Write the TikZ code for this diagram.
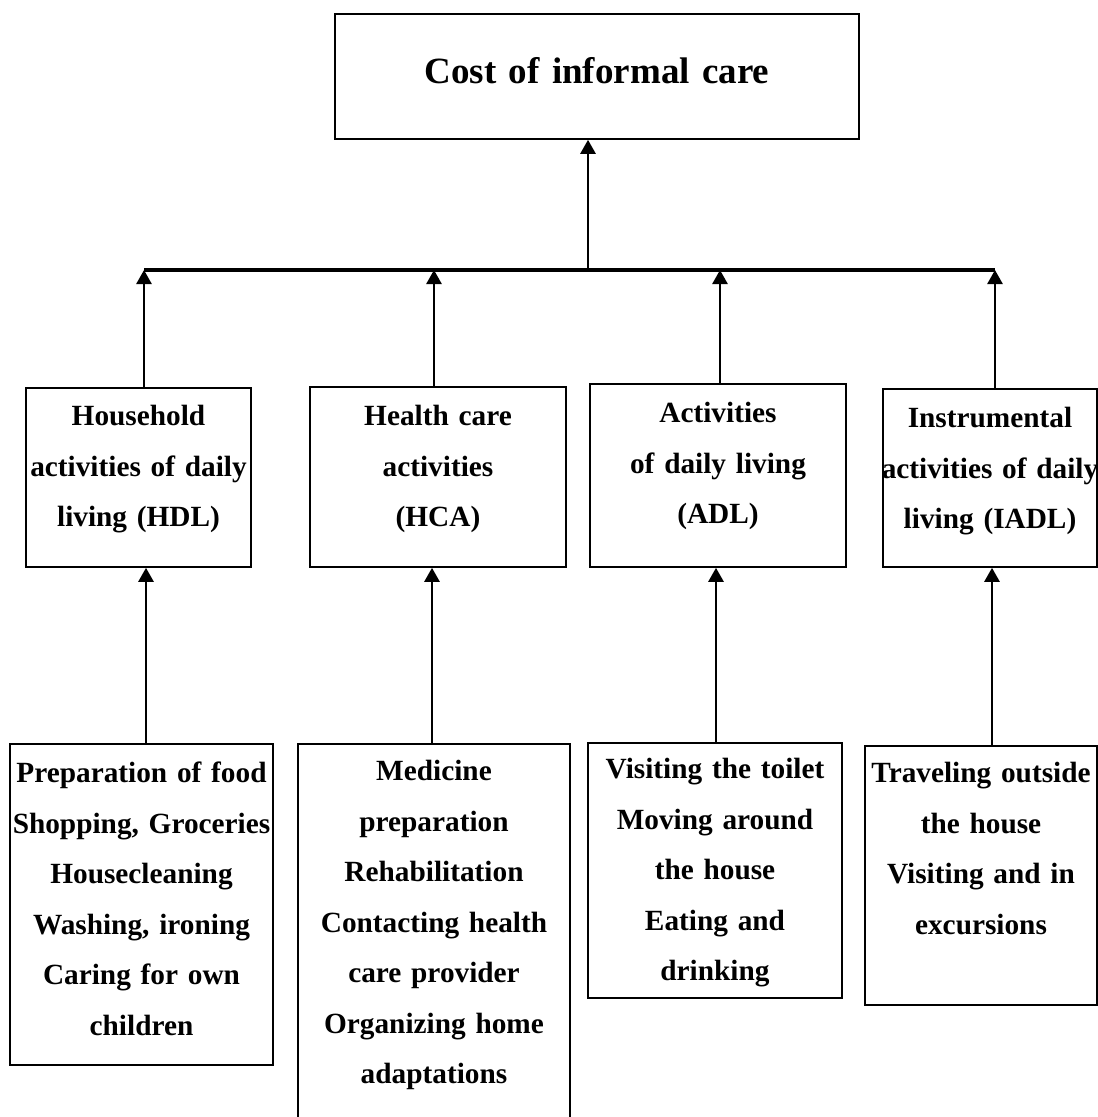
\documentclass[tikz,border=0pt]{standalone}
\usepackage{fontspec}
\setmainfont{Liberation Serif}
\usepackage{tikz}
\usetikzlibrary{arrows.meta,calc,positioning}

\tikzset{
  blk/.style={draw, line width=1.8pt, rectangle, inner ysep=0pt, inner xsep=-8pt, anchor=north, align=center,
    font=\fontsize{29.3pt}{50.5pt}\selectfont\bfseries},
  up/.style={line width=2.6pt, -{Triangle[length=14pt,width=15pt]}},
}

\begin{document}
\begin{tikzpicture}[x=1pt,y=1pt,yscale=-1]
\useasboundingbox (0,0) rectangle (1098,1117);

% Shape: Rectangle [top]
\node[blk, text width=540pt, text height=70pt, text depth=55pt,
  font=\fontsize{37pt}{44pt}\selectfont\bfseries] (cost) at (597,13) {Cost of informal care};

% Shape: Rectangle [middle row]
\node[blk, text width=241pt, text height=38pt, text depth=141pt] (hdl) at (138.5,387) {Household\\activities of daily\\living (HDL)};
\node[blk, text width=272pt, text height=39pt, text depth=141pt] (hca) at (438,386) {Health care\\activities\\(HCA)};
\node[blk, text width=272pt, text height=39pt, text depth=144pt] (adl) at (718,383) {Activities\\of daily living\\(ADL)};
\node[blk, text width=230pt, text height=39pt, text depth=139pt] (iadl) at (990,388) {Instrumental\\activities of daily\\living (IADL)};

% Shape: Rectangle [bottom row]
\node[blk, text width=279pt, text height=39pt, text depth=282pt] (hdlL) at (141.5,743) {Preparation of food\\Shopping, Groceries\\Housecleaning\\Washing, ironing\\Caring for own\\children};
\node[blk, text width=288pt, text height=37pt, text depth=345pt] (hcaL) at (434,743) {Medicine\\preparation\\Rehabilitation\\Contacting health\\care provider\\Organizing home\\adaptations};
\node[blk, text width=270pt, text height=36pt, text depth=219pt] (adlL) at (715,742) {Visiting the toilet\\Moving around\\the house\\Eating and\\drinking};
\node[blk, text width=248pt, text height=37pt, text depth=222pt] (iadlL) at (981,745) {Traveling outside\\the house\\Visiting and in\\excursions};

% points on the bar
\coordinate (b1) at (144,270);
\coordinate (b2) at (434,270);
\coordinate (b3) at (720,270);
\coordinate (b4) at (995,270);
\coordinate (hub) at (588,270);

%Straight Lines [bar]
\draw[line width=3.8pt] (b1) -- (b4);
%Straight Lines [bar to top]
\draw[up] (hub) -- (hub |- cost.south);

%Straight Lines [middle row to bar]
\draw[up] (hdl.north -| b1) -- (b1);
\draw[up] (hca.north -| b2) -- (b2);
\draw[up] (adl.north -| b3) -- (b3);
\draw[up] (iadl.north -| b4) -- (b4);

%Straight Lines [bottom row to middle row]
\draw[up] ([xshift=4.5pt]hdlL.north) coordinate (p1) -- (p1 |- hdl.south);
\draw[up] ([xshift=-2pt]hcaL.north) coordinate (p2) -- (p2 |- hca.south);
\draw[up] ([xshift=1pt]adlL.north) coordinate (p3) -- (p3 |- adl.south);
\draw[up] ([xshift=11pt]iadlL.north) coordinate (p4) -- (p4 |- iadl.south);

\end{tikzpicture}
\end{document}
